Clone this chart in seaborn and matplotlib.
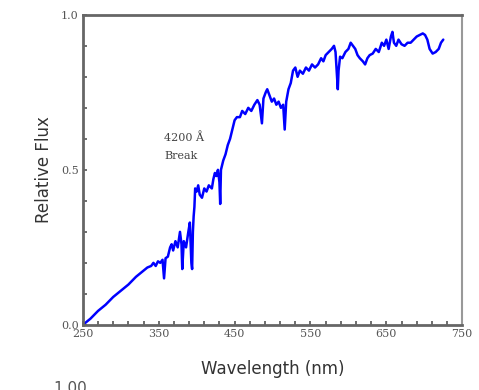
import numpy as np
import seaborn as sns
import matplotlib.pyplot as plt
from matplotlib.ticker import FixedLocator, MultipleLocator

# spectrum (nm, relative flux)
wavelength = [250, 260, 270, 280, 290, 300, 310, 320, 330, 335, 340, 343, 346, 349, 352, 355,
              357, 359, 362, 365, 367, 369, 372, 375, 378, 380, 381, 383, 386, 389, 391, 393,
              394, 395, 396, 397, 398, 400, 402, 404, 407, 410, 413, 416, 420, 422, 424, 426,
              428, 430, 431, 432, 435, 438, 441, 444, 447, 450, 453, 457, 460, 464, 468, 472,
              476, 480, 483, 486, 488, 491, 493, 496, 499, 502, 505, 508, 511, 514, 516, 518,
              521, 524, 527, 530, 533, 536, 540, 544, 548, 552, 556, 560, 564, 567, 570, 574,
              578, 581, 583, 585, 586, 587, 589, 592, 596, 600, 603, 606, 609, 612, 615, 619,
              622, 625, 628, 632, 636, 640, 644, 647, 650, 653, 656, 658, 660, 663, 666, 670,
              674, 678, 682, 686, 690, 694, 698, 701, 704, 707, 711, 715, 719, 722, 725]
flux = [0.00, 0.02, 0.045, 0.065, 0.09, 0.11, 0.13, 0.155, 0.175, 0.185, 0.19, 0.20, 0.19, 0.205, 0.20, 0.21,
        0.15, 0.215, 0.22, 0.25, 0.26, 0.24, 0.27, 0.25, 0.30, 0.26, 0.18, 0.27, 0.25, 0.30, 0.33, 0.20,
        0.18, 0.30, 0.35, 0.38, 0.44, 0.43, 0.45, 0.42, 0.41, 0.44, 0.43, 0.45, 0.44, 0.47, 0.49, 0.48,
        0.50, 0.46, 0.39, 0.50, 0.53, 0.55, 0.58, 0.60, 0.63, 0.66, 0.67, 0.67, 0.69, 0.68, 0.70, 0.69,
        0.71, 0.725, 0.71, 0.65, 0.73, 0.75, 0.76, 0.74, 0.72, 0.73, 0.71, 0.72, 0.70, 0.71, 0.63, 0.72,
        0.76, 0.78, 0.82, 0.83, 0.80, 0.82, 0.81, 0.83, 0.82, 0.84, 0.83, 0.84, 0.86, 0.85, 0.87, 0.88,
        0.89, 0.90, 0.88, 0.80, 0.76, 0.82, 0.865, 0.86, 0.88, 0.89, 0.91, 0.90, 0.89, 0.87, 0.86, 0.85,
        0.84, 0.86, 0.87, 0.875, 0.89, 0.88, 0.91, 0.90, 0.92, 0.89, 0.93, 0.945, 0.91, 0.90, 0.92, 0.905,
        0.90, 0.91, 0.91, 0.92, 0.93, 0.935, 0.94, 0.935, 0.92, 0.89, 0.875, 0.88, 0.89, 0.91, 0.92]

x_ticks = [250, 350, 450, 550, 650, 750]
y_ticks = [0.0, 0.5, 1.0]

sns.set_style("ticks")
plt.rcParams['font.family'] = ['DejaVu Sans']

fig = plt.figure(figsize=(4.79, 3.90), dpi=100)
ax = fig.add_axes([0.173, 0.167, 0.792, 0.795])

sns.lineplot(x=wavelength, y=flux, ax=ax, color='#0000ff', linewidth=1.8)

ax.set_xlim(250, 750)
ax.set_ylim(0, 1)
ax.set_xticks(x_ticks)
ax.set_yticks(y_ticks)
ax.set_xticklabels([str(t) for t in x_ticks], fontsize=8, family='DejaVu Serif', color='#555555')
ax.set_yticklabels(['0.0', '0.5', '1.0'], fontsize=8, family='DejaVu Serif', color='#555555')
ax.xaxis.set_minor_locator(FixedLocator(np.arange(250, 751, 20)))
ax.yaxis.set_minor_locator(MultipleLocator(0.1))
ax.tick_params(which='both', direction='in', length=3, width=1.2, color='#555555', pad=3)

for s in ax.spines.values():
    s.set_color('#666666')
    s.set_linewidth(2)
ax.spines['right'].set_color('#999999')
ax.spines['right'].set_linewidth(1.5)

ax.set_xlabel('Wavelength (nm)', fontsize=12, color='#333333', labelpad=15)
ax.set_ylabel('Relative Flux', fontsize=12, color='#333333', labelpad=6)

ax.text(357, 0.62, '4200 Å\nBreak', fontsize=8, family='DejaVu Serif', color='#444444',
        ha='left', va='top', linespacing=1.9)

fig.text(0.112, 0.004, '1.00', fontsize=11, color='#555555', va='center')

fig.savefig('out.png', dpi=100)
